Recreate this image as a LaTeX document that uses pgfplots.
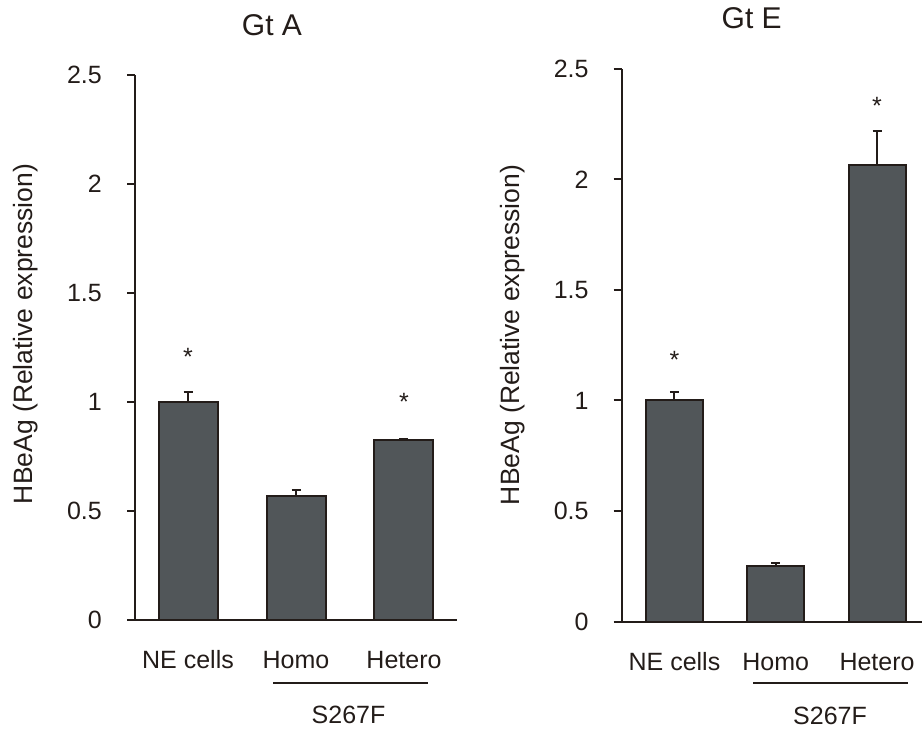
\documentclass[border=0pt]{standalone}
\usepackage{fontspec}
\setmainfont{Liberation Sans}
\usepackage{pgfplots}
\usepackage{pgfplotstable}
\pgfplotsset{compat=1.18}
\definecolor{barfill}{RGB}{81,86,89}
\definecolor{ink}{RGB}{35,28,25}

\pgfplotstableread{
x y e
0 1.000 0.048
1 0.570 0.027
2 0.827 0.005
}\gtA
\pgfplotstableread{
x y e
0 1.000 0.037
1 0.252 0.013
2 2.065 0.155
}\gtE

\tikzset{star/.style={font=\fontsize{25}{30}\selectfont, text=ink, inner sep=0pt}}
\pgfplotsset{
  myaxis/.style={
    scale only axis,
    anchor=south west,
    axis x line*=bottom, axis y line*=left,
    axis line style={ink, line width=2pt},
    x axis line style={shorten <=-7pt},
    ymin=0, ymax=2.5,
    ytick={0,0.5,1,1.5,2,2.5},
    yticklabels={0,0.5,1,1.5,2,2.5},
    xtick={0,1,2},
    xticklabels={NE cells,Homo,Hetero},
    tick align=outside,
    major tick length=8pt,
    ytick style={ink, line width=2pt},
    xtick style={draw=none},
    ticklabel style={font=\fontsize{25}{30}\selectfont, text=ink},
    yticklabel style={anchor=east, inner sep=0pt, xshift=-25pt},
    xticklabel style={anchor=base, inner sep=0pt, yshift=-40.5pt},
    clip=false,
    ybar,
    error bars/y dir=plus, error bars/y explicit,
    error bars/error mark=-,
    error bars/error bar style={ink, line width=2pt},
    error bars/error mark options={ink, line width=2pt, mark size=4.5pt, rotate=90},
  },
}

\begin{document}
\begin{tikzpicture}
\useasboundingbox (0,0) rectangle (923pt,728pt);
% Left panel
\begin{axis}[myaxis,
  at={(135pt,108pt)}, width=322pt, height=545pt,
  xmin=-0.491, xmax=2.491, bar width=59pt]
\addplot[fill=barfill, draw=ink, line width=2pt] table[x=x,y=y,y error=e]{\gtA};
\node[star] at (axis cs:0,1.206) {*};
\node[star] at (axis cs:2,1.0) {*};
\end{axis}
% Right panel
\begin{axis}[myaxis,
  at={(621.7pt,106.3pt)}, width=300.3pt, height=553pt,
  xmin=-0.521, xmax=2.444, bar width=57pt]
\addplot[fill=barfill, draw=ink, line width=2pt] table[x=x,y=y,y error=e]{\gtE};
\node[star] at (axis cs:0,1.183) {*};
\node[star] at (axis cs:2,2.33) {*};
\end{axis}
% titles
\node[text=ink, font=\fontsize{30}{36}\selectfont, inner sep=0pt] at (272pt,702.5pt) {Gt A};
\node[text=ink, font=\fontsize{30}{36}\selectfont, inner sep=0pt] at (751.7pt,709.7pt) {Gt E};
% y labels
\node[text=ink, font=\fontsize{26.5}{32}\selectfont, inner sep=0pt, rotate=90] at (26pt,394pt) {HBeAg (Relative expression)};
\node[text=ink, font=\fontsize{26.5}{32}\selectfont, inner sep=0pt, rotate=90] at (513pt,393pt) {HBeAg (Relative expression)};
% S267F brackets
\draw[ink, line width=2pt] (273pt,45pt) -- (428pt,45pt);
\draw[ink, line width=2pt] (753pt,45pt) -- (908pt,45pt);
\node[text=ink, font=\fontsize{25}{30}\selectfont, inner sep=0pt] at (348.5pt,13pt) {S267F};
\node[text=ink, font=\fontsize{25}{30}\selectfont, inner sep=0pt] at (830pt,12pt) {S267F};
\end{tikzpicture}
\end{document}
